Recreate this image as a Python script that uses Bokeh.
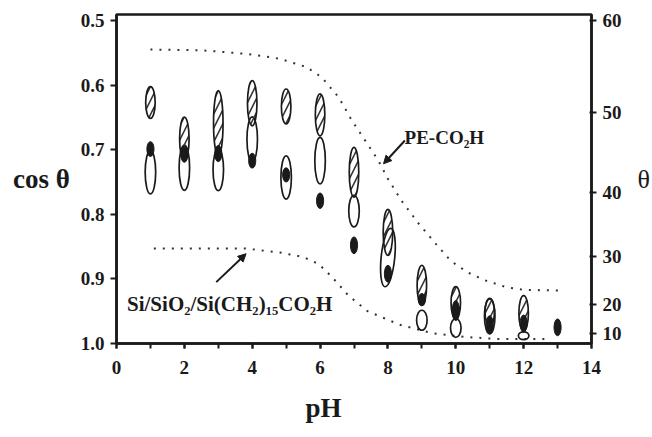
import math
from bokeh.plotting import figure
from bokeh.models import (Range1d, LinearAxis, FixedTicker, SingleIntervalTicker,
                          PrintfTickFormatter, Label, Arrow, NormalHead, Title)
from bokeh.embed import file_html
from bokeh.resources import INLINE

# ---- data ----
hatch_ph = [1, 2, 3, 4, 5, 6, 7, 8, 9, 10, 11, 12]
hatch_cos = [0.627, 0.683, 0.659, 0.628, 0.633, 0.646, 0.735, 0.828, 0.910, 0.937, 0.951, 0.953]
hatch_h = [0.049, 0.067, 0.101, 0.070, 0.054, 0.065, 0.077, 0.071, 0.062, 0.050, 0.042, 0.054]

open_ph = [1, 2, 3, 4, 5, 6, 7, 8, 9, 10, 11, 12]
open_cos = [0.735, 0.728, 0.731, 0.684, 0.743, 0.717, 0.795, 0.867, 0.964, 0.976, 0.958, 0.988]
open_h = [0.067, 0.070, 0.065, 0.070, 0.067, 0.072, 0.049, 0.091, 0.031, 0.029, 0.054, 0.012]

filled_ph = [1, 2, 3, 4, 5, 6, 7, 8, 9, 10, 11, 12, 13]
filled_cos = [0.699, 0.707, 0.706, 0.717, 0.739, 0.779, 0.848, 0.892, 0.932, 0.949, 0.971, 0.969, 0.975]
filled_h = [0.023, 0.025, 0.025, 0.023, 0.022, 0.024, 0.026, 0.026, 0.019, 0.031, 0.028, 0.026, 0.026]

pe_ph = [1.0, 2.5, 3.9, 4.8, 5.6, 6.05, 6.55, 6.94, 7.33, 7.72, 8.0, 8.4, 8.9, 9.4,
         9.85, 10.35, 10.85, 11.5, 12.0, 13.2]
pe_cos = [0.545, 0.546, 0.552, 0.559, 0.572, 0.588, 0.619, 0.655, 0.686, 0.717, 0.745,
          0.779, 0.814, 0.845, 0.872, 0.890, 0.902, 0.913, 0.917, 0.918]

si_ph = [1.1, 3.8, 4.8, 5.5, 5.96, 6.35, 6.84, 7.4, 8.35, 9.3, 10.3, 11.25, 12.7]
si_cos = [0.853, 0.853, 0.859, 0.866, 0.877, 0.897, 0.926, 0.950, 0.971, 0.984, 0.990, 0.993, 0.993]

cos_ticks = [0.5, 0.6, 0.7, 0.8, 0.9, 1.0]
theta_ticks = [60, 50, 40, 30, 20, 10]

SERIF = "Liberation Serif"
INK = "#1a1a1a"

p = figure(width=652, height=437, x_range=Range1d(0, 14), y_range=Range1d(1.0, 0.4907),
           output_backend="svg", toolbar_location=None,
           min_border_left=116, min_border_right=60, min_border_top=14, min_border_bottom=93)
p.grid.visible = False
p.outline_line_color = INK
p.outline_line_width = 2.5
p.background_fill_color = "white"

# x axis
xa = p.xaxis[0]
xa.ticker = SingleIntervalTicker(interval=2, num_minor_ticks=2)
xa.major_tick_in = 0
xa.major_tick_out = 5
xa.minor_tick_in = 0
xa.minor_tick_out = 5
xa.axis_line_width = 2.5
xa.major_tick_line_width = 2
xa.minor_tick_line_width = 2
xa.axis_line_color = INK
xa.major_tick_line_color = INK
xa.minor_tick_line_color = INK
xa.major_label_text_font = SERIF
xa.major_label_text_font_style = "bold"
xa.major_label_text_font_size = "19px"
xa.major_label_text_color = INK
xa.major_label_standoff = 12

# left y axis
ya = p.yaxis[0]
ya.ticker = FixedTicker(ticks=cos_ticks)
ya.formatter = PrintfTickFormatter(format="%.1f")
ya.major_tick_in = 0
ya.major_tick_out = 6
ya.minor_tick_out = 0
ya.minor_tick_in = 0
ya.axis_line_width = 2.5
ya.major_tick_line_width = 2
ya.axis_line_color = INK
ya.major_tick_line_color = INK
ya.major_label_text_font = SERIF
ya.major_label_text_font_style = "bold"
ya.major_label_text_font_size = "19px"
ya.major_label_text_color = INK
ya.major_label_standoff = 6
ya.axis_label = "cos θ"
ya.axis_label_orientation = "horizontal"
ya.axis_label_text_font = SERIF
ya.axis_label_text_font_style = "bold"
ya.axis_label_text_font_size = "27px"
ya.axis_label_text_color = INK
ya.axis_label_standoff = 8

# right theta axis
tpos = [round(math.cos(math.radians(t)), 6) for t in theta_ticks]
ra = LinearAxis(ticker=FixedTicker(ticks=tpos),
                major_label_overrides={tp: str(t) for tp, t in zip(tpos, theta_ticks)})
ra.major_tick_in = 2
ra.major_tick_out = 5
ra.minor_tick_out = 0
ra.minor_tick_in = 0
ra.axis_line_width = 2.5
ra.major_tick_line_width = 2
ra.axis_line_color = INK
ra.major_tick_line_color = INK
ra.major_label_text_font = SERIF
ra.major_label_text_font_style = "bold"
ra.major_label_text_font_size = "19px"
ra.major_label_text_color = INK
ra.major_label_standoff = 6
ra.axis_label = "θ"
ra.axis_label_orientation = "horizontal"
ra.axis_label_text_font = SERIF
ra.axis_label_text_font_style = "normal"
ra.axis_label_text_font_size = "26px"
ra.axis_label_text_color = INK
ra.axis_label_standoff = 13
p.add_layout(ra, "right")

# pH title below the x axis
p.add_layout(Title(text="pH", align="left", offset=189, text_font=SERIF,
                   text_font_style="bold", text_font_size="27px", text_color=INK,
                   standoff=29), "below")

# dotted curves
p.line(pe_ph, pe_cos, line_color="#333333", line_width=2, line_dash="2 7")
p.line(si_ph, si_cos, line_color="#333333", line_width=2, line_dash="2 7")

# ellipses
open_w = [0.40 if x == 8 else 0.31 for x in open_ph]
open_ang = [-0.1 if x == 8 else 0.0 for x in open_ph]
p.ellipse(x=open_ph, y=open_cos, width=open_w, height=open_h, angle=open_ang,
          fill_color=None, line_color=INK, line_width=1.7)
p.ellipse(x=hatch_ph, y=hatch_cos, width=0.28, height=hatch_h,
          fill_color=None, line_color=INK, line_width=1.7,
          hatch_pattern="/", hatch_color="#333333", hatch_scale=14, hatch_weight=1.6)
p.ellipse(x=filled_ph, y=filled_cos, width=0.21, height=filled_h,
          fill_color=INK, line_color=INK, line_width=1)

# annotations
p.add_layout(Label(x=8.49, y=0.6811, text="PE-CO₂H", text_font=SERIF,
                   text_font_style="bold", text_font_size="19px", text_color=INK,
                   text_baseline="alphabetic"))
p.add_layout(Label(x=0.31, y=0.9385, text="Si/SiO₂/Si(CH₂)₁₅CO₂H", text_font=SERIF,
                   text_font_style="bold", text_font_size="21px", text_color=INK,
                   text_baseline="alphabetic"))
p.add_layout(Arrow(x_start=8.50, y_start=0.6858, x_end=7.87, y_end=0.7218,
                   line_color=INK, line_width=2,
                   end=NormalHead(size=8, fill_color=INK, line_color=INK)))
p.add_layout(Arrow(x_start=2.94, y_start=0.905, x_end=3.82, y_end=0.861,
                   line_color=INK, line_width=2,
                   end=NormalHead(size=8, fill_color=INK, line_color=INK)))

open("out.html", "w").write(file_html(p, INLINE))
